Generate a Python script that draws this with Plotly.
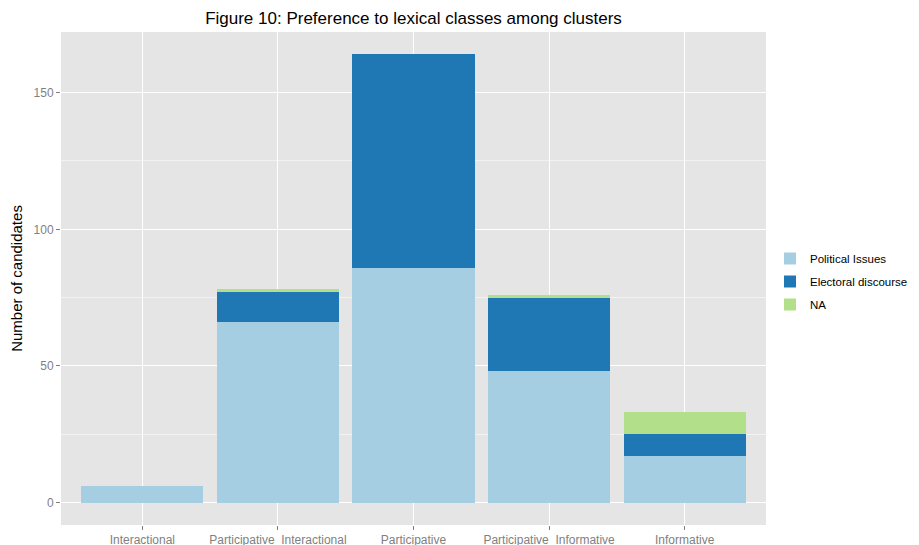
import plotly.graph_objects as go

categories = ["Interactional", "Participative  Interactional", "Participative",
              "Participative  Informative", "Informative"]
political_issues = [6, 66, 86, 48, 17]
electoral_discourse = [0, 11, 78, 27, 8]
na_values = [0, 1, 0, 1, 8]
series_names = ["Political Issues", "Electoral discourse", "NA"]
colors = ["#A6CEE3", "#1F78B4", "#B2DF8A"]

W, H = 911, 537  # page body has an 8px margin

fig = go.Figure()
for name, vals, col in zip(series_names, [political_issues, electoral_discourse, na_values], colors):
    fig.add_trace(go.Bar(x=categories, y=vals, name=name, legendgroup=name,
                         marker=dict(color=col, line=dict(width=0)), width=0.9))

fig.update_layout(
    barmode="stack",
    width=W, height=H,
    margin=dict(l=53, r=153, t=24, b=20, autoexpand=False),
    paper_bgcolor="white",
    plot_bgcolor="#E5E5E5",
    font=dict(family="Liberation Sans, Arial, Helvetica, sans-serif", size=12, color="black"),
    title=dict(text="Figure 10: Preference to lexical classes among clusters",
               x=405.5/W, xanchor="center", y=1-10/H, yanchor="middle",
               font=dict(size=17, color="black")),
    legend=dict(traceorder="grouped", xref="container", yref="container",
                x=762/W, y=1-236/H, xanchor="left", yanchor="top", tracegroupgap=4,
                font=dict(size=11.5, color="black"), bgcolor="rgba(0,0,0,0)"),
    showlegend=True,
    bargap=0.1,
)
fig.update_xaxes(range=[-0.6, 4.6], showgrid=True, gridcolor="white", gridwidth=1.2,
                 ticks="outside", ticklen=4, tickcolor="#7F7F7F", automargin=False,
                 tickfont=dict(size=12, color="#7F7F7F"), zeroline=False, showline=False)
fig.update_yaxes(range=[-8.2, 172.2], tickvals=[0, 50, 100, 150], showgrid=True,
                 gridcolor="white", gridwidth=1.2, automargin=False,
                 minor=dict(tickvals=[25, 75, 125], showgrid=True, gridcolor="#F2F2F2", gridwidth=0.6, ticks=""),
                 ticks="outside", ticklen=4, tickcolor="#7F7F7F",
                 tickfont=dict(size=12, color="#7F7F7F"), zeroline=False, showline=False,
                 title=dict(text="Number of candidates", font=dict(size=15, color="black"), standoff=14))

fig.write_html("out.html")
